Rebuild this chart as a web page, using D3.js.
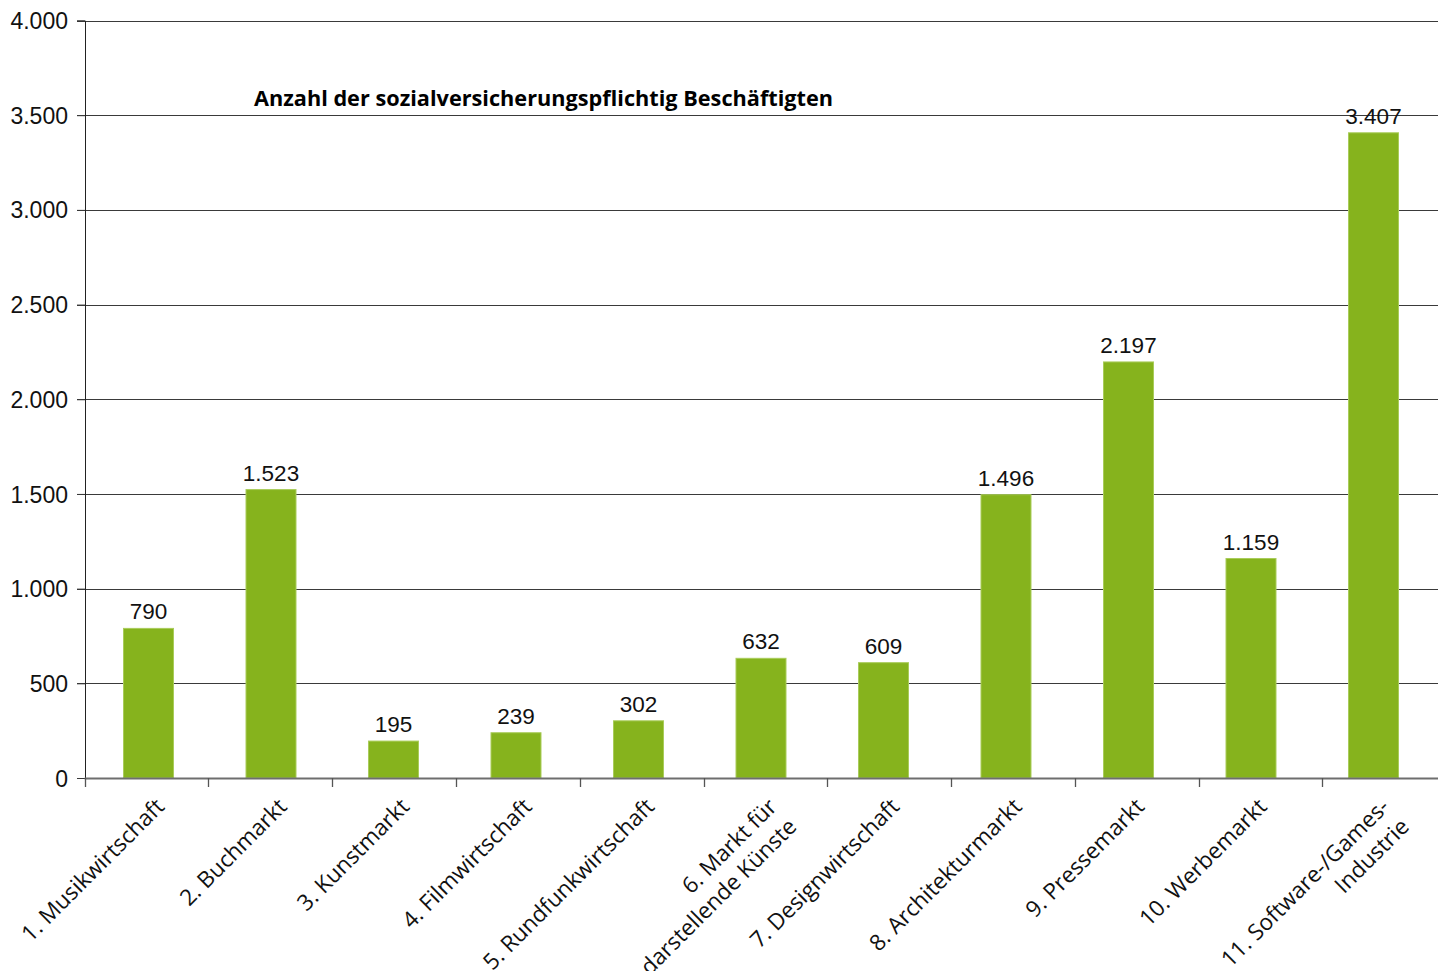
<!DOCTYPE html>
<html><head><meta charset="utf-8">
<script src="https://cdn.jsdelivr.net/npm/d3@7"></script>
<style>body{margin:0;background:#fff;}svg{display:block;}</style>
</head><body>
<svg id="c" width="1438" height="971"></svg>
<script>
const categories = [
  ["1. Musikwirtschaft"],
  ["2. Buchmarkt"],
  ["3. Kunstmarkt"],
  ["4. Filmwirtschaft"],
  ["5. Rundfunkwirtschaft"],
  ["6. Markt für", "darstellende Künste"],
  ["7. Designwirtschaft"],
  ["8. Architekturmarkt"],
  ["9. Pressemarkt"],
  ["10. Werbemarkt"],
  ["11. Software-/Games-", "Industrie"]
];
const values = [790, 1523, 195, 239, 302, 632, 609, 1496, 2197, 1159, 3407];
const yTicks = [0, 500, 1000, 1500, 2000, 2500, 3000, 3500, 4000];
const title = "Anzahl der sozialversicherungspflichtig Beschäftigten";

const svg = d3.select("#c");
const fmt = v => d3.format(",")(v).replace(/,/g, ".");

// bar positions
const x = d3.scaleBand().domain(d3.range(categories.length)).range([87.25, 1434.75]).padding(0);
// category boundaries (tick marks)
const xb = d3.scaleBand().domain(d3.range(categories.length)).range([84.7, 1446.1]).padding(0);
const y = d3.scaleLinear().domain([0, 4000]).range([778, 20.5]);

// gridlines
svg.append("g").selectAll("line").data(yTicks.filter(d => d > 0)).join("line")
  .attr("x1", 77).attr("x2", 1438)
  .attr("y1", d => Math.round(y(d)) + 0.5).attr("y2", d => Math.round(y(d)) + 0.5)
  .attr("stroke", "#3a3a3a").attr("stroke-width", 1);

// y axis
const yAxis = svg.append("g").attr("transform", "translate(85,0)")
  .call(d3.axisLeft(y).tickValues(yTicks).tickSize(8).tickPadding(9).tickFormat(fmt));
yAxis.select(".domain").attr("stroke", "#222");
yAxis.selectAll(".tick line").attr("stroke", "#3a3a3a");
yAxis.selectAll(".tick text").attr("font-family", "'Liberation Sans', Arial, sans-serif")
  .attr("font-size", 23).attr("fill", "#111").attr("dy", "0.35em");

// bars
const bw = 50;
svg.append("g").selectAll("rect").data(values).join("rect")
  .attr("x", (d, i) => x(i) + x.bandwidth() / 2 - bw / 2)
  .attr("width", bw)
  .attr("y", d => y(d))
  .attr("height", d => y(0) - y(d))
  .attr("fill", "#86b31d")
  .attr("stroke", "#a9cc5a").attr("stroke-width", 1);

// x axis
const boundaries = d3.range(categories.length).map(i => xb(i)).concat([xb.range()[1]]);
svg.append("line").attr("x1", 84.7).attr("x2", 1438).attr("y1", 778.5).attr("y2", 778.5)
  .attr("stroke", "#6e6e6e").attr("stroke-width", 2);
svg.append("g").selectAll("line").data(boundaries).join("line")
  .attr("x1", d => Math.round(d) + 0.5).attr("x2", d => Math.round(d) + 0.5)
  .attr("y1", 778).attr("y2", 787).attr("stroke", "#555").attr("stroke-width", 1.3);

// value labels
svg.append("g").selectAll("text").data(values).join("text")
  .attr("x", (d, i) => x(i) + x.bandwidth() / 2)
  .attr("y", d => y(d) - 9)
  .attr("text-anchor", "middle")
  .attr("font-family", "'Liberation Sans', Arial, sans-serif")
  .attr("font-size", 22.5).attr("fill", "#111")
  .text(d => fmt(d));

// category labels
const cl = svg.append("g").selectAll("text").data(categories).join("text")
  .attr("transform", (d, i) => `translate(${x(i) + x.bandwidth() / 2 + 6},${797}) rotate(-45)`)
  .attr("text-anchor", "end")
  .attr("font-family", "'Open Sans', 'Noto Sans', sans-serif")
  .attr("font-size", 22.5).attr("fill", "#111");
cl.selectAll("tspan").data(d => d).join("tspan")
  .attr("x", 0).attr("dy", (d, j) => j === 0 ? "0.7em" : "1.25em")
  .text(d => d);

// title
svg.append("text").attr("x", 254).attr("y", 106)
  .attr("font-family", "'Open Sans', 'Noto Sans', sans-serif")
  .attr("font-weight", "bold").attr("font-size", 21.7).attr("fill", "#000")
  .text(title);
</script>
</body></html>
